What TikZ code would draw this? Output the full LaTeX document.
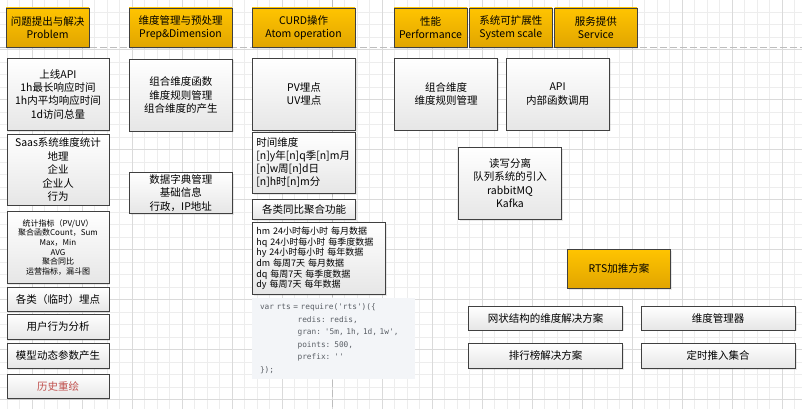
\documentclass[tikz,border=0pt]{standalone}
\usepackage{fontspec}
\setmainfont{Noto Sans CJK SC}
\setmonofont{DejaVu Sans Mono}
\usetikzlibrary{shadows}
\definecolor{gridminor}{HTML}{EDEDED}
\definecolor{gridmajor}{HTML}{DADADA}
\definecolor{guide}{HTML}{BDBDBD}
\definecolor{edge}{HTML}{404040}
\definecolor{orangetop}{HTML}{FFC400}
\definecolor{orangebot}{HTML}{E1A500}
\definecolor{boxbot}{HTML}{E6E6E6}
\definecolor{redtext}{HTML}{C0504D}
\definecolor{codebg}{HTML}{F3F5F8}
\definecolor{codetext}{HTML}{5A5F66}
\tikzset{
	card/.style={draw=edge, line width=0.8pt, top color=white, bottom color=boxbot,
		drop shadow={shadow xshift=1.2pt, shadow yshift=-1.2pt, opacity=0.18},
		inner sep=0pt, align=center, font=\fontsize{10.5}{13.4}\selectfont},
	head/.style={card, top color=orangetop, bottom color=orangebot},
	lcard/.style={card, align=left, inner xsep=4pt},
}
\begin{document}
\begin{tikzpicture}[x=1pt,y=-1pt]
	\useasboundingbox (0,0) rectangle (802,409);
	\fill[white] (0,0) rectangle (802,409);
	% background grid
	\foreach \x in {7,19.5,...,802}{%
			\draw[gridminor, line width=0.6pt] (\x,0) -- (\x,409);
			}
	\foreach \y in {12,24.5,...,409}{%
			\draw[gridminor, line width=0.6pt] (0,\y) -- (802,\y);
			}
	\foreach \x in {32,82,...,782}{%
			\draw[gridmajor, line width=0.6pt] (\x,0) -- (\x,409);
			}
	\foreach \y in {49.5,99.5,...,399.5}{%
			\draw[gridmajor, line width=0.6pt] (0,\y) -- (802,\y);
			}
	\draw[guide, line width=0.8pt, dash pattern=on 7pt off 3pt] (0,47) -- (802,47);
	\draw[guide, line width=0.8pt, dash pattern=on 7pt off 3pt] (332,0) -- (332,409);

	% header row
	\node[head, minimum width=83pt,   minimum height=39.5pt] (problem)  at (47.5,27.75)   {问题提出与解决\\Problem};
	\node[head, minimum width=103pt,  minimum height=39.5pt] (prep)     at (180.5,27.75)  {维度管理与预处理\\Prep\&Dimension};
	\node[head, minimum width=103pt,  minimum height=39.5pt] (curd)     at (303.5,27.75)  {CURD操作\\Atom operation};
	\node[head, minimum width=73pt,   minimum height=39.5pt] (perf)     at (430.5,27.75)  {性能\\Performance};
	\node[head, minimum width=82.5pt, minimum height=39.5pt] (scale)    at (510.75,27.75) {系统可扩展性\\System scale};
	\node[head, minimum width=82.5pt, minimum height=39.5pt] (service)  at (595.75,27.75) {服务提供\\Service};

	% problem column
	\node[card, minimum width=102pt, minimum height=72pt]   (onlineapi) at (58,94.3)   {上线API\\1h最长响应时间\\1h内平均响应时间\\1d访问总量};
	\node[card, minimum width=102pt, minimum height=70.7pt] (saas)      at (58,169.65) {Saas系统维度统计\\地理\\企业\\企业人\\行为};
	\node[card, minimum width=102pt, minimum height=72.7pt, font=\fontsize{8}{9.6}\selectfont] (stats) at (58,247.35)
		{统计指标（PV/UV）\\聚合函数Count，Sum\\Max，Min\\AVG\\聚合同比\\运营指标，漏斗图};
	\node[card, minimum width=102pt, minimum height=24.7pt] (tracking)  at (58,299.35)  {各类（临时）埋点};
	\node[card, minimum width=102pt, minimum height=25.4pt] (behavior)  at (58,327)     {用户行为分析};
	\node[card, minimum width=102pt, minimum height=25pt]   (model)     at (58,355.8)   {模型动态参数产生};
	\node[card, minimum width=102pt, minimum height=24pt, text=redtext] (redraw) at (58,386.3) {历史重绘};

	% dimension column
	\node[card, minimum width=103pt, minimum height=71.7pt] (combfunc) at (180.8,95.15) {组合维度函数\\维度规则管理\\组合维度的产生};
	\node[card, minimum width=103pt, minimum height=40.6pt] (dict)     at (180.8,193)   {数据字典管理\\基础信息\\行政，IP地址};

	% atom operation column
	\node[card, minimum width=103.4pt, minimum height=72pt] (pvuv)   at (304,94.3)  {PV埋点\\UV埋点};
	\node[lcard, minimum width=103.4pt, minimum height=61pt, text width=95.4pt, font=\fontsize{10.5}{13}\selectfont] (timedim) at (304,162.8)
		{时间维度\\{}[n]y年[n]q季[n]m月\\{}[n]w周[n]d日\\{}[n]h时[n]m分};
	\node[card, minimum width=103.4pt, minimum height=20pt] (yoy)    at (304,209.3) {各类同比聚合功能};
	\node[lcard, minimum width=133.4pt, minimum height=72pt, text width=125.4pt, font=\fontsize{9}{10.7}\selectfont] (granlist) at (319,258.3)
		{hm 24小时每小时 每月数据\\hq 24小时每小时 每季度数据\\hy 24小时每小时 每年数据\\dm 每周7天 每月数据\\dq 每周7天 每季度数据\\dy 每周7天 每年数据};
	\node[fill=codebg, text=codetext, minimum width=162.7pt, minimum height=80.7pt, inner xsep=7.7pt, text width=147.3pt, align=left,
		font=\ttfamily\fontsize{7.8}{12.5}\selectfont] (rtscode) at (333.65,338.65)
		{var rts = require('rts')(\{\\
		\hphantom{xxxxxxxx}redis: redis,\\
		\hphantom{xxxxxxxx}gran: '5m, 1h, 1d, 1w',\\
		\hphantom{xxxxxxxx}points: 500,\\
		\hphantom{xxxxxxxx}prefix: ''\\
		\});};

	% performance, scale and service
	\node[card, minimum width=103.4pt, minimum height=71.7pt] (combdim)  at (446,94.15)    {组合维度\\维度规则管理};
	\node[card, minimum width=103.3pt, minimum height=71.7pt] (apicall)  at (557.65,94.15) {API\\内部函数调用};
	\node[card, minimum width=103.4pt, minimum height=72pt]   (rwsplit)  at (510,183.3)    {读写分离\\队列系统的引入\\rabbitMQ\\Kafka};
	\node[head, minimum width=103.4pt, minimum height=39pt]   (rtsplan)  at (619,268.8)    {RTS加推方案};
	\node[card, minimum width=154.4pt, minimum height=24pt]   (mesh)     at (545.5,318)    {网状结构的维度解决方案};
	\node[card, minimum width=154.3pt, minimum height=24pt]   (dimmgr)   at (718.15,318)   {维度管理器};
	\node[card, minimum width=154.4pt, minimum height=25pt]   (ranking)  at (545.5,355.8)  {排行榜解决方案};
	\node[card, minimum width=154.3pt, minimum height=25pt]   (timedpush) at (718.15,355.8) {定时推入集合};
\end{tikzpicture}
\end{document}
